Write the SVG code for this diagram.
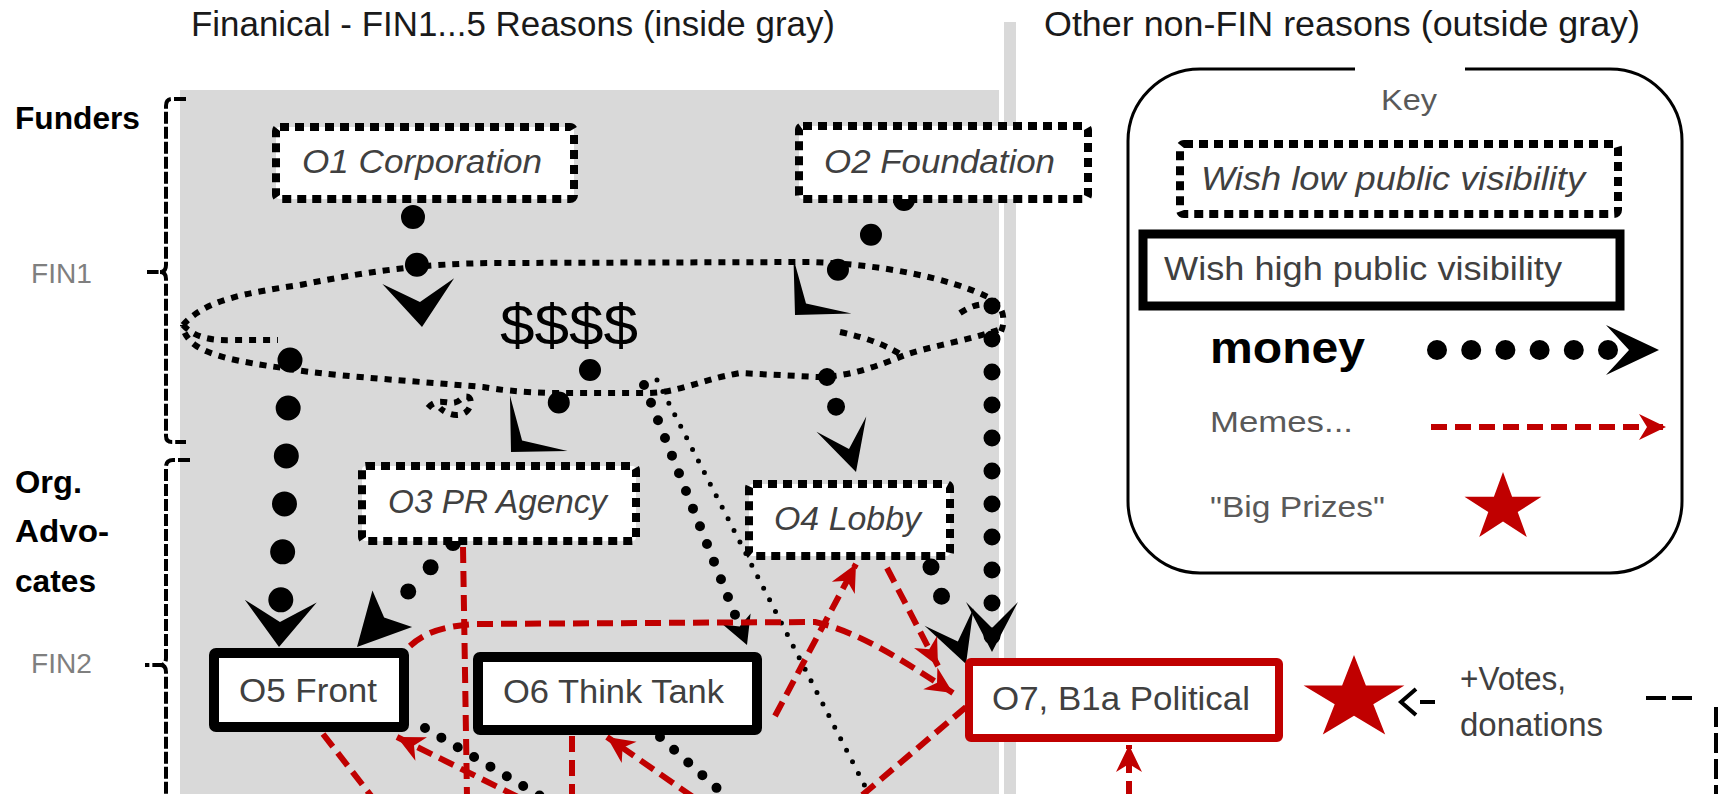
<svg xmlns="http://www.w3.org/2000/svg" width="1725" height="794" viewBox="0 0 1725 794">
<defs>
<style>
text{font-family:"Liberation Sans",Arial,sans-serif}
.t{fill:#404040;font-size:33px}
.ti{fill:#404040;font-size:33px;font-style:italic}
.b{font-weight:bold;fill:#000;font-size:31px}
.fin{fill:#7f7f7f;font-size:28px}
.hdr{fill:#1a1a1a;font-size:35px}
.keyt{fill:#595959;font-size:30px}
.low{fill:#fff;stroke:#000;stroke-width:8;stroke-dasharray:9 6}
.high{fill:#fff;stroke:#000;stroke-width:9}
.hi10{fill:#fff;stroke:#000;stroke-width:10}
.red{fill:#fff;stroke:#c00000;stroke-width:8}
.brk{fill:none;stroke:#000;stroke-width:4;stroke-dasharray:12 3}
.m{fill:none;stroke:#000;stroke-linecap:round}
.meme{fill:none;stroke:#c00000;stroke-width:6;stroke-dasharray:16 8}
.cloud{fill:none;stroke:#000;stroke-width:6;stroke-dasharray:7 7}
.star{fill:#c00000}
.gray{fill:#d9d9d9}
</style>
<marker id="aV" markerUnits="userSpaceOnUse" viewBox="-50 -40 55 80" markerWidth="55" markerHeight="80" refX="0" refY="0" orient="auto" overflow="visible"><path d="M0,0 L-46,-36 L-25,0 L-46,36 Z" fill="#000"/></marker>
<marker id="aL" markerUnits="userSpaceOnUse" viewBox="-45 -45 50 90" markerWidth="50" markerHeight="90" refX="0" refY="0" orient="auto" overflow="visible"><path d="M0,0 L-40,-40 L-16,0 L-40,40 Z" fill="#000"/></marker>
<marker id="aT" markerUnits="userSpaceOnUse" viewBox="-56 -30 60 60" markerWidth="60" markerHeight="60" refX="0" refY="0" orient="auto" overflow="visible"><path d="M0,0 L-52,-27 L-40,0 L-52,27 Z" fill="#000"/></marker>
<marker id="aM" markerUnits="userSpaceOnUse" viewBox="-55 -30 60 60" markerWidth="60" markerHeight="60" refX="0" refY="0" orient="auto" overflow="visible"><path d="M0,0 L-50,-26 L-24,0 L-50,26 Z" fill="#000"/></marker>
<marker id="aS" markerUnits="userSpaceOnUse" viewBox="-30 -16 34 32" markerWidth="34" markerHeight="32" refX="0" refY="0" orient="auto" overflow="visible"><path d="M0,0 L-28,-15 L-20,0 L-28,15 Z" fill="#000"/></marker>
<marker id="aK" markerUnits="userSpaceOnUse" viewBox="-56 -28 60 56" markerWidth="60" markerHeight="56" refX="0" refY="0" orient="auto" overflow="visible"><path d="M0,0 L-53,-25 L-30,0 L-53,25 Z" fill="#000"/></marker>
<marker id="aR" markerUnits="userSpaceOnUse" viewBox="-30 -15 34 30" markerWidth="34" markerHeight="30" refX="0" refY="0" orient="auto" overflow="visible"><path d="M0,0 L-27,-13 L-19,0 L-27,13 Z" fill="#c00000"/></marker>
</defs>

<rect width="1725" height="794" fill="#fff"/>
<rect class="gray" x="180" y="90" width="819" height="704"/>
<rect class="gray" x="1004" y="22" width="12" height="772"/>

<g id="headers">
<text class="hdr" x="191" y="36" textLength="644" lengthAdjust="spacingAndGlyphs">Finanical - FIN1...5 Reasons (inside gray)</text>
<text class="hdr" x="1044" y="36" textLength="596" lengthAdjust="spacingAndGlyphs">Other non-FIN reasons (outside gray)</text>
</g>

<g id="side-labels">
<text class="b" x="15" y="129" textLength="125" lengthAdjust="spacingAndGlyphs">Funders</text>
<text class="fin" x="31" y="283" textLength="61" lengthAdjust="spacingAndGlyphs">FIN1</text>
<text class="b" x="15" y="493" textLength="67" lengthAdjust="spacingAndGlyphs">Org.</text>
<text class="b" x="15" y="542" textLength="94" lengthAdjust="spacingAndGlyphs">Advo-</text>
<text class="b" x="15" y="592" textLength="81" lengthAdjust="spacingAndGlyphs">cates</text>
<text class="fin" x="31" y="673" textLength="61" lengthAdjust="spacingAndGlyphs">FIN2</text>
<path class="brk" d="M186,99 L172,99 Q166,99 166,106 L166,265 Q166,272 160,272 L147,272 M160,272 Q166,272 166,279 L166,436 Q166,442 172,442 L186,442"/>
<path class="brk" d="M190,460 L173,460 Q166,460 166,467 L166,658 Q166,665 160,665 L145,665 M160,665 Q166,665 166,672 L166,800"/>
</g>

<g id="cloud">
<path class="cloud" d="M183,325 C205,300 245,293 300,285 C360,273 420,263 500,263 L810,262 C880,264 950,278 990,298 C1008,308 1006,330 995,340"/>
<path class="cloud" d="M183,325 C195,338 212,341 235,340 L278,340"/>
<path class="cloud" d="M840,332 C868,338 888,346 905,357"/>
<path class="cloud" d="M998,330 C970,340 935,345 905,355 C880,365 850,377 817,377 L740,373 C700,380 680,392 650,393 L550,393 C520,392 500,390 483,387 C400,380 320,375 283,368 C240,362 210,356 195,345 C186,338 183,331 183,325"/>
<path class="cloud" d="M960,313 C972,305 982,303 993,305"/>
<path class="cloud" stroke-width="5" stroke-dasharray="5 4" d="M428,408 C440,394 452,410 462,398 C470,392 475,404 466,412 C458,418 446,414 440,408"/>
<text x="500" y="345" font-size="58" fill="#000" textLength="138" lengthAdjust="spacingAndGlyphs">$$$$</text>
</g>

<g id="connectors">
<path class="m" stroke-width="24" stroke-dasharray="0 48 0 999" d="M413,217 L422,327" marker-end="url(#aV)"/>
<path class="m" stroke-width="22" stroke-dasharray="0 48 0 48 0 999" d="M904,200 L795,315" marker-end="url(#aL)"/>
<path class="m" stroke-width="25" stroke-dasharray="0 48" d="M290,360 L279,647" marker-end="url(#aV)"/>
<path class="m" stroke-width="22" stroke-dasharray="0 45 0 999" d="M590,370 L511,452" marker-end="url(#aL)"/>
<path class="m" stroke-width="16" stroke-dasharray="0 33 0 33 0 999" d="M453,543 L357,647" marker-end="url(#aT)"/>
<path class="m" stroke-width="18" stroke-dasharray="0 31 0 999" d="M827,377 L856,472" marker-end="url(#aM)"/>
<path class="m" stroke-width="10" stroke-dasharray="0 19" d="M644,385 L747,645" marker-end="url(#aS)"/>
<path class="m" stroke-width="5" stroke-dasharray="0 13" d="M657,380 L870,796"/>
<path class="m" stroke-width="17" stroke-dasharray="0 33" d="M992,306 L992,652" marker-end="url(#aM)"/>
<path class="m" stroke-width="17" stroke-dasharray="0 31 0 999" d="M931,567 L966,664" marker-end="url(#aM)"/>
<path class="m" stroke-width="10" stroke-dasharray="0 19" d="M425,728 L547,800"/>
<path class="m" stroke-width="10" stroke-dasharray="0 19" d="M660,737 L730,800"/>
<path class="meme" d="M410,646 C425,632 445,626 475,624 L815,622 C860,632 905,662 953,693" marker-end="url(#aR)"/>
<path class="meme" d="M887,568 L938,666" marker-end="url(#aR)"/>
<path class="meme" d="M775,716 L856,564" marker-end="url(#aR)"/>
<path class="meme" d="M966,707 L860,797"/>
<path class="meme" d="M693,797 L607,737" marker-end="url(#aR)"/>
<path class="meme" d="M572,736 L572,797"/>
<path class="meme" d="M323,734 L372,797"/>
<path class="meme" d="M518,797 L397,737" marker-end="url(#aR)"/>
<path class="meme" d="M463,547 L467,797"/>
<path class="meme" d="M1129,797 L1129,745" marker-end="url(#aR)"/>
<path fill="none" stroke="#000" stroke-width="4" d="M1416,689 L1401,702 L1416,715 M1420,702 L1435,702"/>
<path fill="none" stroke="#000" stroke-width="4" stroke-dasharray="20 6" d="M1646,698 L1694,698"/>
<path fill="none" stroke="#000" stroke-width="4" stroke-dasharray="20 6" d="M1716,707 L1716,800"/>
</g>

<g id="O1">
<rect class="low" x="276" y="127" width="298" height="72" rx="4"/>
<text class="ti" x="302" y="173" textLength="240" lengthAdjust="spacingAndGlyphs">O1 Corporation</text>
</g>
<g id="O2">
<rect class="low" x="799" y="126" width="289" height="73" rx="4"/>
<text class="ti" x="824" y="173" textLength="231" lengthAdjust="spacingAndGlyphs">O2 Foundation</text>
</g>
<g id="O3">
<rect class="low" x="362" y="466" width="274" height="75" rx="4"/>
<text class="ti" x="388" y="513" textLength="219" lengthAdjust="spacingAndGlyphs">O3 PR Agency</text>
</g>
<g id="O4">
<rect class="low" x="749" y="484" width="201" height="72" rx="4"/>
<text class="ti" x="774" y="530" textLength="147" lengthAdjust="spacingAndGlyphs">O4 Lobby</text>
</g>
<g id="O5">
<rect class="hi10" x="214" y="653" width="190" height="74" rx="2"/>
<text class="t" x="239" y="702" textLength="138" lengthAdjust="spacingAndGlyphs">O5 Front</text>
</g>
<g id="O6">
<rect class="hi10" x="478" y="657" width="279" height="73" rx="2"/>
<text class="t" x="503" y="703" textLength="221" lengthAdjust="spacingAndGlyphs">O6 Think Tank</text>
</g>
<g id="O7">
<rect class="red" x="969" y="662" width="310" height="76" rx="2"/>
<text class="t" x="992" y="710" textLength="258" lengthAdjust="spacingAndGlyphs">O7, B1a Political</text>
</g>
<g id="prize">
<polygon class="star" points="1354,655 1365.9,685.4 1404.4,685.4 1373.3,704.2 1385.2,734.6 1354,715.8 1322.8,734.6 1334.7,704.2 1303.6,685.4 1342.1,685.4"/>
</g>
<g id="votes">
<text class="t" font-size="30" x="1460" y="690" textLength="106" lengthAdjust="spacingAndGlyphs">+Votes,</text>
<text class="t" font-size="30" x="1460" y="736" textLength="143" lengthAdjust="spacingAndGlyphs">donations</text>
</g>

<g id="key">
<path fill="none" stroke="#000" stroke-width="3" d="M1355,69 L1200,69 A72,72 0 0 0 1128,141 L1128,501 A72,72 0 0 0 1200,573 L1610,573 A72,72 0 0 0 1682,501 L1682,141 A72,72 0 0 0 1610,69 L1465,69"/>
<text class="keyt" font-size="28" x="1381" y="110" textLength="56" lengthAdjust="spacingAndGlyphs">Key</text>
<rect class="low" x="1180" y="144" width="438" height="70" rx="4"/>
<text class="ti" font-size="31" x="1201" y="190" textLength="384" lengthAdjust="spacingAndGlyphs">Wish low public visibility</text>
<rect class="high" x="1143" y="234" width="477" height="72"/>
<text class="t" font-size="32" x="1164" y="280" textLength="398" lengthAdjust="spacingAndGlyphs">Wish high public visibility</text>
<text x="1210" y="363" font-size="44" font-weight="bold" fill="#000" textLength="155" lengthAdjust="spacingAndGlyphs">money</text>
<path class="m" stroke-width="20" stroke-dasharray="0 34.2 0 34.2 0 34.2 0 34.2 0 34.2 0 999" d="M1437,350 L1659,350" marker-end="url(#aK)"/>
<text class="keyt" x="1210" y="432" textLength="143" lengthAdjust="spacingAndGlyphs">Memes...</text>
<path class="meme" d="M1431,427 L1666,427" marker-end="url(#aR)"/>
<text class="keyt" x="1210" y="517" textLength="175" lengthAdjust="spacingAndGlyphs">"Big Prizes"</text>
<polygon class="star" points="1503,472 1512.1,496.8 1541.5,496.8 1517.7,512.1 1526.8,537 1503,521.6 1479.2,537 1488.3,512.1 1464.5,496.8 1493.9,496.8"/>
</g>
</svg>
